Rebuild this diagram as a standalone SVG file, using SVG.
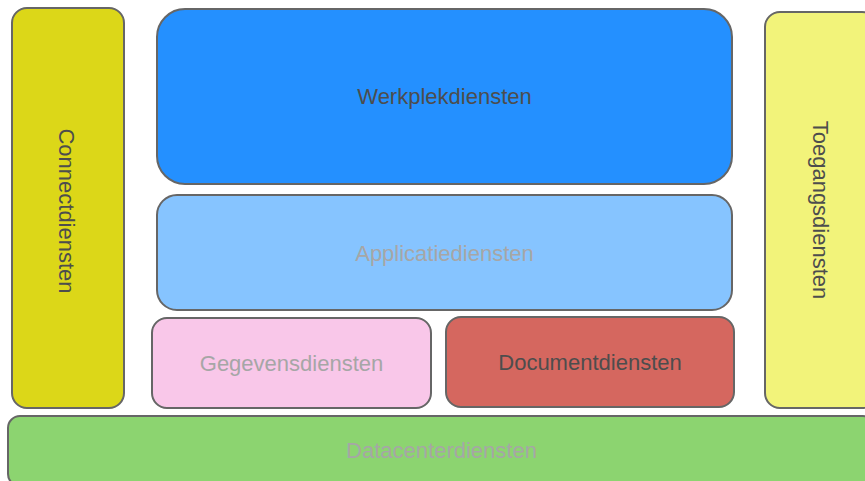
<svg xmlns="http://www.w3.org/2000/svg" width="865" height="481" viewBox="0 0 865 481">
  <style>
    .box { stroke: #666666; stroke-width: 2; }
    .lbl { font-family: "Liberation Sans", Arial, Helvetica, sans-serif; font-size: 22px; text-anchor: middle; dominant-baseline: central; }
    .dark { fill: #4d4d4d; }
    .muted { fill: #a6a6a6; }
  </style>
  <rect width="865" height="481" fill="#ffffff"/>

  <g id="connectdiensten">
    <rect class="box" x="12" y="8" width="112" height="400" rx="15" fill="#dcd718"/>
    <text class="lbl dark" transform="translate(66 211) rotate(90)">Connectdiensten</text>
  </g>

  <g id="werkplekdiensten">
    <rect class="box" x="157" y="9" width="575" height="175" rx="28" fill="#2490ff"/>
    <text class="lbl dark" x="444.5" y="96">Werkplekdiensten</text>
  </g>

  <g id="applicatiediensten">
    <rect class="box" x="157" y="195" width="575" height="115" rx="20" fill="#86c4ff"/>
    <text class="lbl muted" x="444.5" y="253">Applicatiediensten</text>
  </g>

  <g id="gegevensdiensten">
    <rect class="box" x="152" y="318" width="279" height="90" rx="15" fill="#f9c7e9"/>
    <text class="lbl muted" x="291.5" y="363">Gegevensdiensten</text>
  </g>

  <g id="documentdiensten">
    <rect class="box" x="446" y="317" width="288" height="90" rx="15" fill="#d5675f"/>
    <text class="lbl dark" x="590" y="362">Documentdiensten</text>
  </g>

  <g id="toegangsdiensten">
    <rect class="box" x="765" y="12" width="112" height="396" rx="15" fill="#f2f37a"/>
    <text class="lbl dark" transform="translate(820 210) rotate(90)">Toegangsdiensten</text>
  </g>

  <g id="datacenterdiensten">
    <rect class="box" x="8" y="416" width="867" height="70" rx="12" fill="#8cd470"/>
    <text class="lbl muted" x="441.5" y="450">Datacenterdiensten</text>
  </g>

  <g id="connectors"></g>
</svg>
